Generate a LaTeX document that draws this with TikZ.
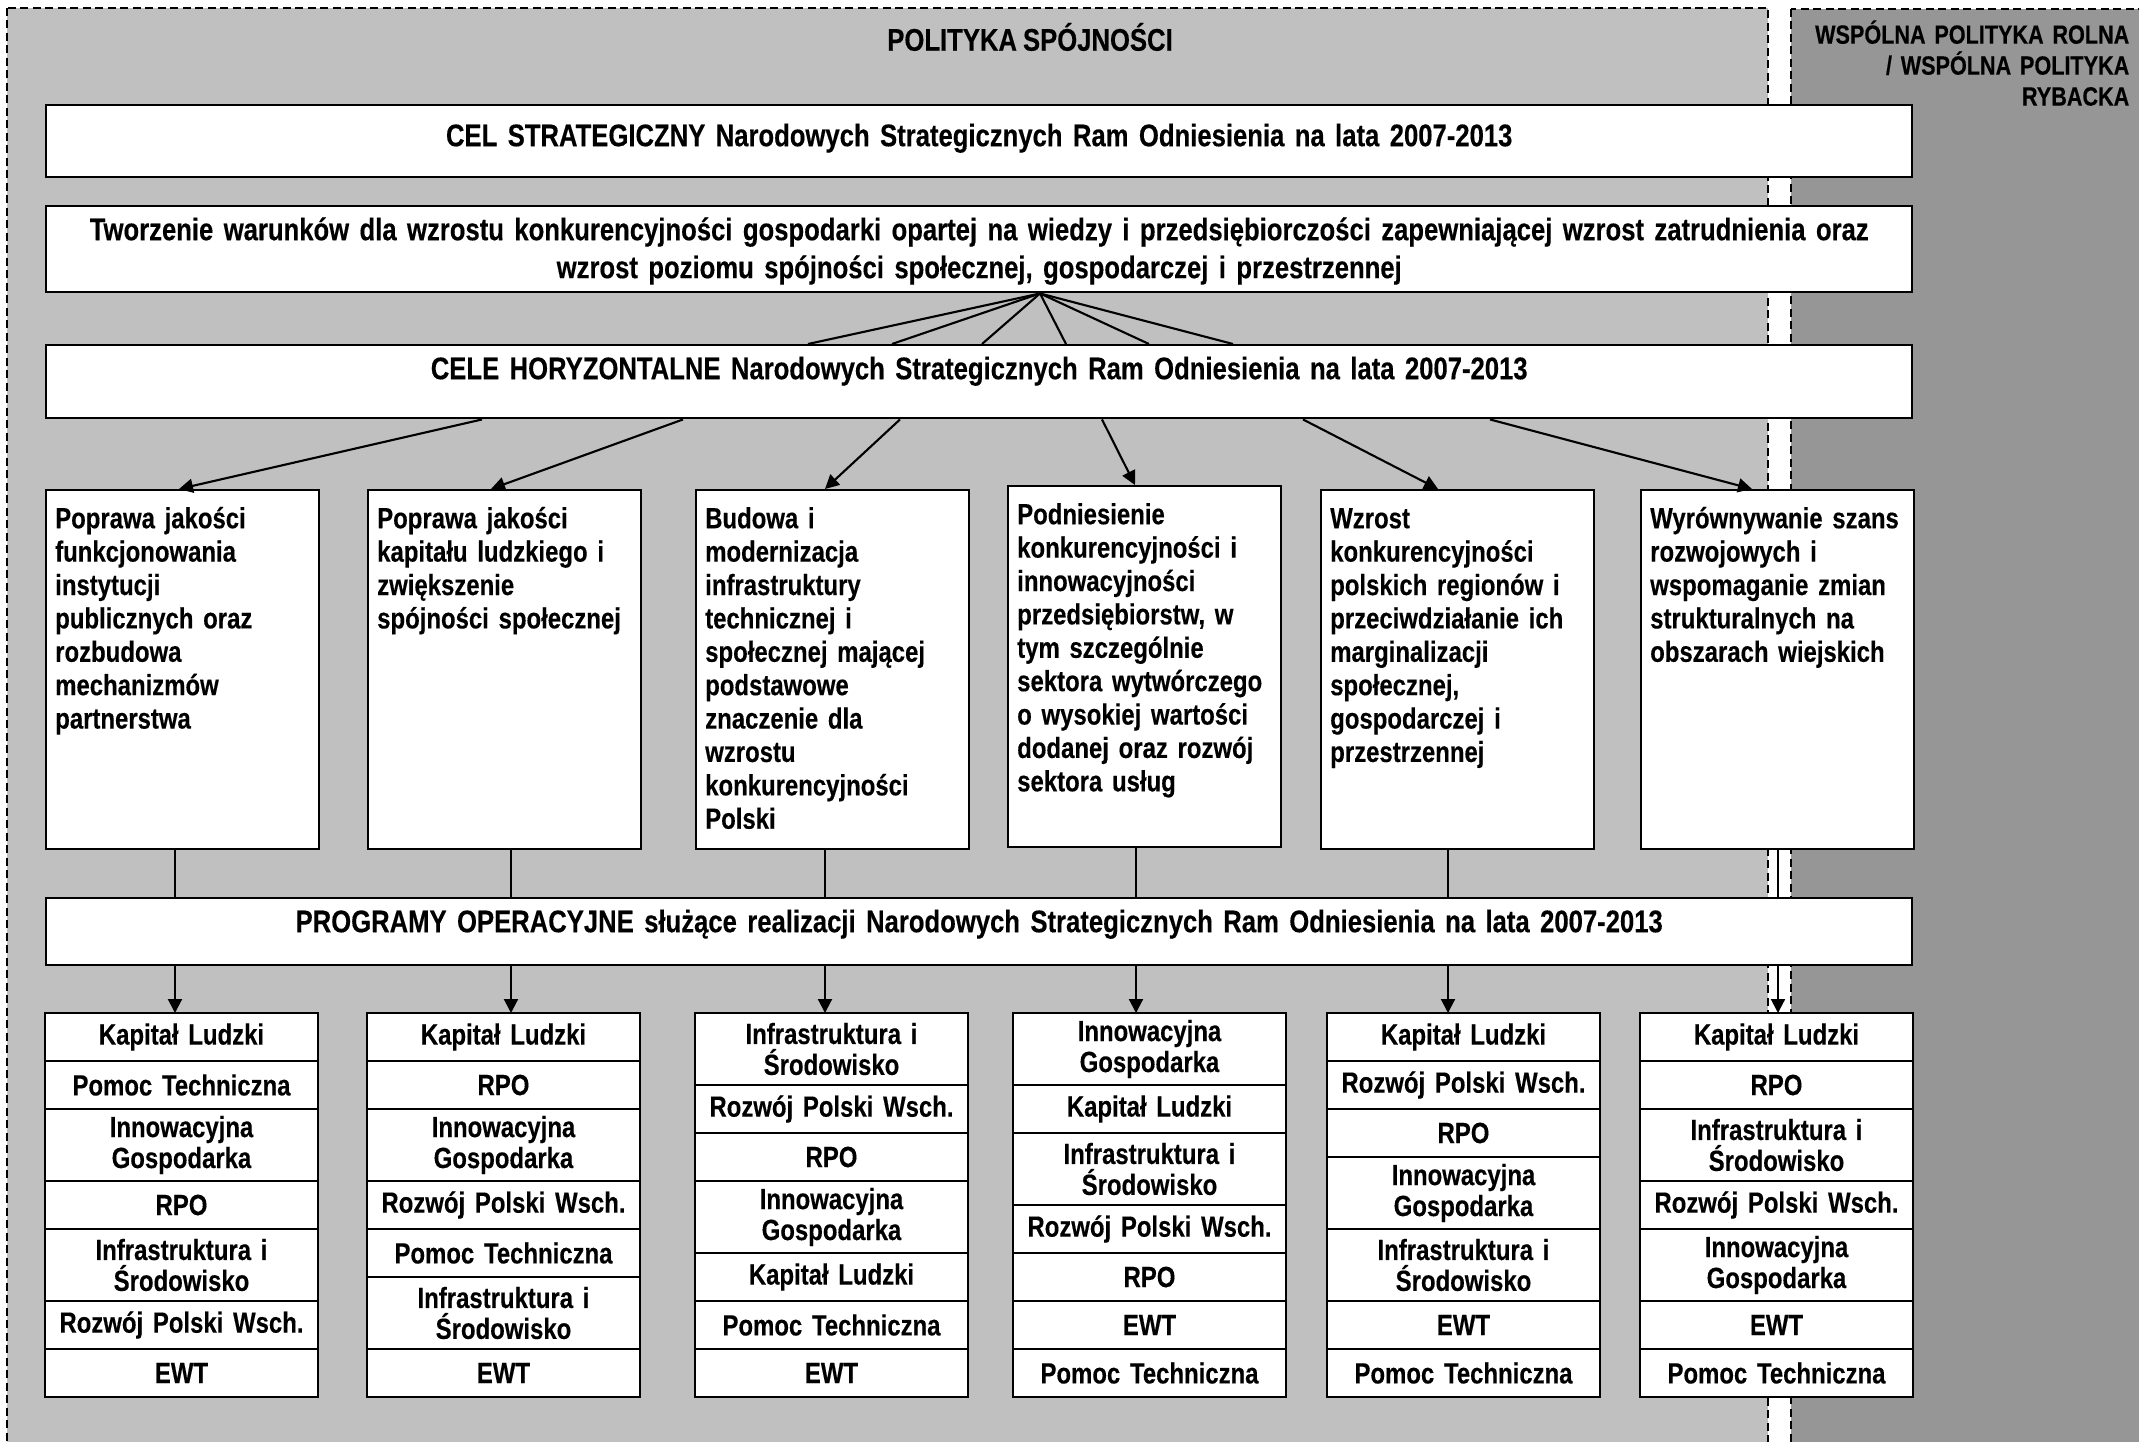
\documentclass[tikz,border=0pt]{standalone}
\usepackage{fontspec}
\setmainfont{Liberation Sans}[FakeStretch=0.82, WordSpace=0.85, BoldFeatures={FakeBold=0.3}]
\usetikzlibrary{arrows.meta}
\usetikzlibrary{positioning}
\usetikzlibrary{calc}

\definecolor{spojnosc}{HTML}{C0C0C0}
\definecolor{rolna}{HTML}{969696}

\tikzset{
  region/.style={draw, line width=0.5pt, dash pattern=on 0.8mm off 0.45mm},
  bar/.style={draw, line width=0.7pt, fill=white, anchor=north west, text width=184.6mm,
    inner xsep=1mm, inner ysep=1mm, align=center, text height=2.4mm,
    font=\fontsize{8.9}{9.5}\selectfont\bfseries},
  goal/.style={draw, line width=0.7pt, fill=white, anchor=north west, text width=25.5mm,
    inner xsep=0.9mm, inner ysep=1mm, align=left, text height=2.8mm, text depth=31.1mm},
  cell/.style={draw, line width=0.7pt, fill=white, text width=27.3mm, inner xsep=0pt,
    inner ysep=0pt, outer sep=0pt, align=center, font=\fontsize{8.3}{8.8}\selectfont\bfseries},
  link/.style={line width=0.6pt},
}

\begin{document}
\begin{tikzpicture}[x=0.1mm, y=-0.1mm, >={Triangle[length=1.4mm, width=1.4mm]},
    font=\fontsize{8.3}{9.5}\selectfont\bfseries]
  \useasboundingbox (0,0) rectangle (2139,1442);
  \fill[white] (0,0) rectangle (2139,1442);

  % the two policy areas
  \draw[region, fill=spojnosc] (7,8) rectangle (1768,1470);
  \draw[region, fill=rolna] (1791,9) rectangle (2170,1470);
  \node[font=\fontsize{8.9}{9.5}\selectfont\bfseries] (pol) at (1030,37) {POLITYKA SPÓJNOŚCI};
  \node[anchor=north east, text width=34mm, align=right, inner sep=0pt, text height=2.4mm,
    font=\fontsize{7.5}{8.8}\selectfont\bfseries] (wpr) at (2130,19)
    {WSPÓLNA POLITYKA ROLNA\\/ WSPÓLNA POLITYKA\\RYBACKA};

  % strategic goal
  \node[bar, text height=3.1mm, text depth=2.1mm] (cel) at (45,104)
    {CEL STRATEGICZNY Narodowych Strategicznych Ram Odniesienia na lata 2007-2013};
  \node[bar, text depth=4.2mm, font=\fontsize{8.9}{10.8}\selectfont\bfseries] (tw) at (45,205)
    {Tworzenie warunków dla wzrostu konkurencyjności gospodarki opartej na wiedzy i przedsiębiorczości zapewniającej wzrost zatrudnienia oraz\\
     wzrost poziomu spójności społecznej, gospodarczej i przestrzennej};
  \node[bar, text depth=2.9mm] (cele) at (45,344)
    {CELE HORYZONTALNE Narodowych Strategicznych Ram Odniesienia na lata 2007-2013};

  % horizontal goals
  \node[goal] (g1) at (45,489) {Poprawa jakości\\funkcjonowania\\instytucji\\publicznych oraz\\rozbudowa\\mechanizmów\\partnerstwa};
  \node[goal] (g2) at (367,489) {Poprawa jakości\\kapitału ludzkiego i\\zwiększenie\\spójności społecznej};
  \node[goal] (g3) at (695,489) {Budowa i\\modernizacja\\infrastruktury\\technicznej i\\społecznej mającej\\podstawowe\\znaczenie dla\\wzrostu\\konkurencyjności\\Polski};
  \node[goal, text depth=31.3mm] (g4) at (1007,485) {Podniesienie\\konkurencyjności i\\innowacyjności\\przedsiębiorstw, w\\tym szczególnie\\sektora wytwórczego\\o wysokiej wartości\\dodanej oraz rozwój\\sektora usług};
  \node[goal] (g5) at (1320,489) {Wzrost\\konkurencyjności\\polskich regionów i\\przeciwdziałanie ich\\marginalizacji\\społecznej,\\gospodarczej i\\przestrzennej};
  \node[goal] (g6) at (1640,489) {Wyrównywanie szans\\rozwojowych i\\wspomaganie zmian\\strukturalnych na\\obszarach wiejskich};

  % operational programmes
  \node[bar, text depth=2.3mm] (prog) at (45,897)
    {PROGRAMY OPERACYJNE służące realizacji Narodowych Strategicznych Ram Odniesienia na lata 2007-2013};

  \foreach \c/\x/\lst in {
    1/181.5/{Kapitał Ludzki/4.8, Pomoc Techniczna/4.8, {Innowacyjna\\Gospodarka}/7.2, RPO/4.8, {Infrastruktura i\\Środowisko}/7.2, Rozwój Polski Wsch./4.8, EWT/4.8},
    2/503.5/{Kapitał Ludzki/4.8, RPO/4.8, {Innowacyjna\\Gospodarka}/7.2, Rozwój Polski Wsch./4.8, Pomoc Techniczna/4.8, {Infrastruktura i\\Środowisko}/7.2, EWT/4.8},
    3/831.5/{{Infrastruktura i\\Środowisko}/7.2, Rozwój Polski Wsch./4.8, RPO/4.8, {Innowacyjna\\Gospodarka}/7.2, Kapitał Ludzki/4.8, Pomoc Techniczna/4.8, EWT/4.8},
    4/1149.5/{{Innowacyjna\\Gospodarka}/7.2, Kapitał Ludzki/4.8, {Infrastruktura i\\Środowisko}/7.2, Rozwój Polski Wsch./4.8, RPO/4.8, EWT/4.8, Pomoc Techniczna/4.8},
    5/1463.5/{Kapitał Ludzki/4.8, Rozwój Polski Wsch./4.8, RPO/4.8, {Innowacyjna\\Gospodarka}/7.2, {Infrastruktura i\\Środowisko}/7.2, EWT/4.8, Pomoc Techniczna/4.8},
    6/1776.5/{Kapitał Ludzki/4.8, RPO/4.8, {Infrastruktura i\\Środowisko}/7.2, Rozwój Polski Wsch./4.8, {Innowacyjna\\Gospodarka}/7.2, EWT/4.8, Pomoc Techniczna/4.8}}{
    \foreach \t/\h [count=\i, remember=\i as \j (initially 0)] in \lst {
      \ifnum\i=1
        \node[cell, minimum height=\h mm, anchor=north] (p\c-\i) at (\x,1013) {\t};
      \else
        \node[cell, minimum height=\h mm, below=0pt of p\c-\j] (p\c-\i) {\t};
      \fi
    }
  }

  % connectors
  \coordinate (apex) at (tw.south -| 1040,0);
  \foreach \x in {808,892,982,1066,1149,1233}
    \draw[link] (apex) -- (cele.north -| \x,0);

  \foreach \s/\t [count=\i] in {482/179, 683/491, 900/825, 1102/1135, 1303/1438, 1490/1752}
    \draw[link, ->] (cele.south -| \s,0) -- (g\i.north -| \t,0);

  \foreach \x [count=\i] in {175,511,825,1136,1448,1778} {
    \draw[link] (g\i.south -| \x,0) -- (prog.north -| \x,0);
    \draw[link, ->] (prog.south -| \x,0) -- (p\i-1.north -| \x,0);
  }
\end{tikzpicture}
\end{document}
